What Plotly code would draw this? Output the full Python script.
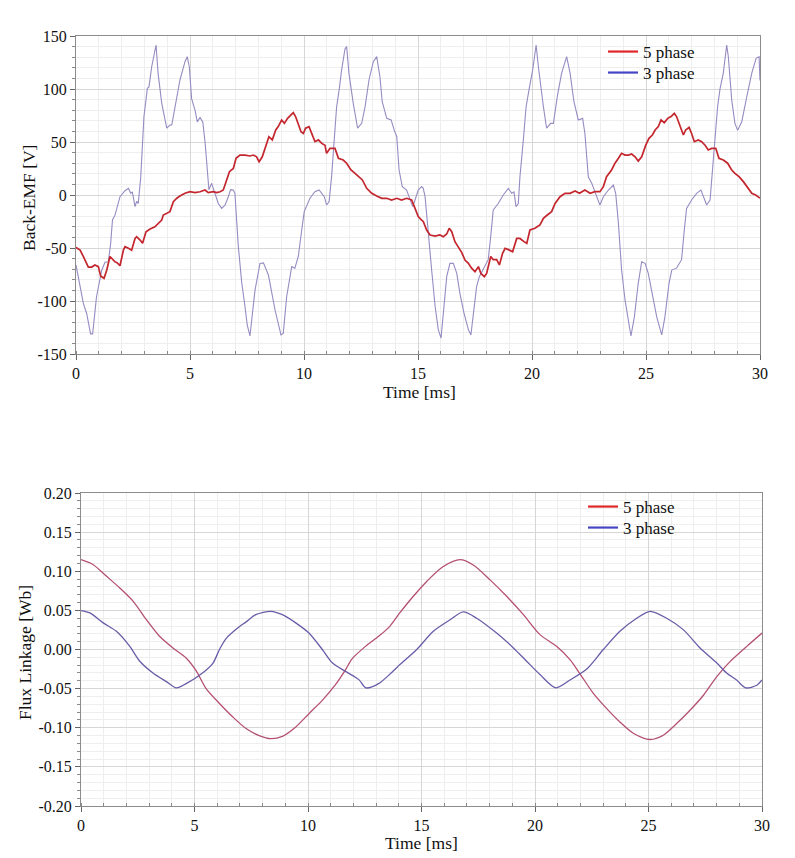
import plotly.graph_objects as go

# ---------------- data ----------------
# Back-EMF, 5 phase (red)
emf5_t = [0.00,0.18,0.32,0.47,0.54,0.69,0.83,0.98,1.08,1.23,1.35,1.49,1.60,1.71,1.81,1.93,2.08,2.15,2.30,2.44,
          2.59,2.66,2.81,2.92,3.07,3.25,3.46,3.61,3.76,3.83,3.98,4.12,4.27,4.42,4.56,4.78,5.00,5.22,5.44,5.66,
          5.80,6.02,6.17,6.32,6.46,6.61,6.73,6.90,7.02,7.19,7.41,7.63,7.78,7.92,8.03,8.17,8.32,8.46,8.61,8.76,
          8.87,9.02,9.14,9.28,9.43,9.53,9.63,9.75,9.87,9.97,10.07,10.22,10.34,10.48,10.63,10.78,10.92,10.99,11.14,11.36,
          11.51,11.72,11.87,12.06,12.24,12.38,12.56,12.75,12.97,13.19,13.41,13.63,13.84,14.07,14.28,14.50,14.72,14.87,15.01,15.16,
          15.23,15.38,15.53,15.75,15.96,16.11,16.26,16.37,16.48,16.62,16.77,16.92,17.06,17.21,17.35,17.50,17.65,17.76,17.91,18.01,
          18.19,18.30,18.45,18.57,18.71,18.82,19.01,19.15,19.33,19.47,19.65,19.77,19.91,20.13,20.35,20.50,20.67,20.86,21.01,21.23,
          21.45,21.67,21.89,22.08,22.32,22.55,22.76,22.98,23.13,23.27,23.49,23.64,23.79,23.93,24.08,24.23,24.37,24.52,24.66,24.81,
          24.99,25.13,25.28,25.40,25.54,25.66,25.80,25.95,26.10,26.24,26.34,26.45,26.56,26.64,26.74,26.89,27.00,27.12,27.29,27.44,
          27.59,27.73,27.88,28.06,28.20,28.39,28.58,28.76,28.90,29.08,29.27,29.46,29.64,29.81,30.00]
emf5_v = [-49.4,-52,-58,-64.5,-68,-68,-66,-67.6,-76.4,-78.6,-70.8,-58,-61,-63,-64,-66.7,-52,-48.7,-50.3,-52,
          -41,-39.3,-42.5,-45.6,-34.6,-32,-30,-26.7,-23.6,-18.9,-17.3,-15.7,-6.3,-3,-1,1.6,3.1,2.2,3.1,4.7,
          2.2,3.1,2.2,3.1,4.7,15.7,22,25,34.6,37.7,37.7,36.8,37.7,36,31.4,36,47,55,52,61.3,
          64.5,70.8,67.6,72.3,75.5,77.7,74,66,59.7,58,63,64.5,58,50.3,52,48.7,47,39.3,44,44,
          34.6,33,30,23.6,20.4,17.3,14.2,6.3,1.6,-1,-3.1,-3.1,-4.7,-3.1,-4.7,-3.1,-4.7,-12.6,-20.4,-23.6,
          -25,-33,-37.7,-38.7,-37.7,-39.3,-36.8,-31.4,-34.6,-44,-48.7,-54.4,-61.3,-64.5,-69,-72.3,-67.6,-74,-77,-74,
          -58,-61,-61,-66,-55,-50.3,-52,-53.5,-41,-41,-44,-45.6,-33,-31.4,-28.3,-22,-18.9,-15.7,-8,-1.6,
          1.6,1.6,3.8,1.6,4.7,1.6,3.1,3.1,7.9,17.3,23.6,30,34.6,39.3,37.7,37.7,38.7,36,32,36,
          47,53.5,56.6,61.3,64.5,70.8,68.2,72.3,74,77,74,67.6,61.3,56.6,61.3,63.8,58,50.3,52,50.3,
          47,42.5,44,44,34.6,33,30,23.6,20.4,17.3,12.6,6.3,1.6,0,-3]

# Back-EMF, 3 phase (blue)
emf3_t = [0.00,0.32,0.47,0.64,0.73,0.90,1.13,1.27,1.42,1.52,1.60,1.71,1.93,2.15,2.30,2.40,2.47,2.59,2.66,2.73,
          2.84,2.92,2.98,3.13,3.20,3.32,3.51,3.60,3.76,3.98,4.12,4.20,4.39,4.56,4.78,4.88,4.97,5.07,5.22,5.32,
          5.44,5.56,5.66,5.76,5.83,5.95,6.05,6.24,6.39,6.54,6.68,6.78,6.90,6.97,7.12,7.27,7.41,7.51,7.63,7.85,
          8.07,8.22,8.44,8.73,8.99,9.09,9.24,9.46,9.60,9.75,9.90,10.01,10.26,10.48,10.66,10.78,10.89,10.99,11.10,11.21,
          11.33,11.43,11.55,11.65,11.80,11.87,11.97,12.16,12.35,12.53,12.68,12.85,13.04,13.19,13.33,13.43,13.63,13.82,13.96,14.07,
          14.17,14.31,14.50,14.65,14.77,14.87,15.01,15.16,15.23,15.31,15.45,15.60,15.75,15.89,16.01,16.11,16.26,16.40,16.55,16.70,
          16.84,17.02,17.21,17.32,17.43,17.57,17.69,17.87,18.08,18.19,18.30,18.52,18.74,18.96,19.11,19.21,19.30,19.40,19.47,19.62,
          19.74,19.88,20.03,20.18,20.28,20.50,20.64,20.82,20.94,21.11,21.30,21.52,21.67,21.84,22.03,22.22,22.32,22.47,22.62,22.76,
          22.98,23.13,23.35,23.57,23.67,23.79,23.93,24.08,24.23,24.34,24.49,24.66,24.81,24.96,25.10,25.28,25.47,25.69,25.83,26.01,
          26.13,26.34,26.56,26.68,26.78,27.00,27.22,27.41,27.51,27.66,27.81,27.95,28.06,28.14,28.25,28.39,28.54,28.61,28.76,28.90,
          29.02,29.20,29.42,29.64,29.83,29.96,30.00]
emf3_v = [-66,-102,-112,-131,-131,-96,-71,-63.5,-63,-45.6,-23.6,-19,-1.6,4,6.3,1.6,3,-11,-6,-8,
          17,45.6,74,100.6,102,121,141.5,115,86.5,63,66,66,89.6,108.5,125.8,130.5,121,91,80,69,
          73,69,50,23.6,5,11,5,-8,-12.6,-9.4,-1.6,5,4.7,1.6,-48.7,-83,-105,-122.6,-133,-90,
          -64.5,-64,-75.5,-108.5,-132,-130.5,-96,-67.6,-69,-58,-33,-15.7,-3,3.1,4.7,1.6,-1.6,-9.4,-6.3,17.3,
          52,83,100.6,118,138,140,115,86.5,63,67.6,83.3,108.5,125.8,130.5,111.6,88,72.3,70.8,61,55,
          23.6,7.9,4.7,-4.7,-11,-4.7,4.7,7.9,6.3,-1.6,-39,-71,-105,-127,-135,-111.6,-77,-64.5,-64.5,-74,
          -93,-111.6,-127,-132,-111.6,-86.5,-77,-69,-61,-39,-14,-8,0,6.3,1.6,3,-11,-8,17,52,
          83,100.6,118,141.5,121,83.3,63,67.6,67.6,93,115,130.5,115,88,70.8,72.3,58,17,11,3,
          -9.4,-1.6,4.7,9.4,1.6,-26.7,-70.8,-99,-118,-133,-115,-83.3,-63,-64.5,-74,-93,-115,-132,-115,-83.3,
          -70.8,-69,-61,-33,-12.6,-4.7,1.6,4.7,-1.6,-9.4,-4.7,30,61,83.3,100.6,115,141.5,130.5,89.6,67.6,
          61,69,92.8,115,129,130.5,108]

# Flux linkage, 5 phase (red)
flux5_t = [0.00,0.54,1.13,1.71,2.30,2.88,3.46,4.05,4.63,5.07,5.51,6.10,6.68,7.27,7.85,8.36,8.87,9.46,10.04,10.63,
           11.21,11.65,11.94,12.53,13.11,13.55,14.05,14.64,15.23,15.96,16.70,17.28,18.02,18.75,19.49,20.22,20.95,21.54,21.98,22.57,
           23.16,23.74,24.33,25.07,25.65,26.24,26.83,27.42,28.00,28.59,29.33,30.00]
flux5_v = [0.1148,0.1084,0.0935,0.0786,0.0616,0.0382,0.0169,0.002,-0.0108,-0.027,-0.050,-0.069,-0.086,-0.101,-0.110,-0.114,-0.111,-0.099,-0.082,-0.065,
           -0.045,-0.026,-0.012,0.004,0.017,0.028,0.047,0.068,0.087,0.106,0.1148,0.108,0.089,0.068,0.0445,0.019,0.004,-0.013,-0.031,-0.056,
           -0.0755,-0.0926,-0.107,-0.115,-0.1096,-0.0947,-0.0777,-0.0585,-0.035,-0.0155,0.004,0.021]

# Flux linkage, 3 phase (blue)
flux3_t = [0.00,0.39,0.98,1.56,2.15,2.59,3.17,3.76,4.20,4.63,5.22,5.80,6.10,6.39,6.97,7.26,7.70,8.36,8.87,9.46,
           10.04,10.63,11.07,11.65,12.24,12.55,13.11,13.70,14.05,14.79,15.52,16.26,16.84,17.43,18.31,19.05,19.63,20.22,20.92,21.54,
           22.28,23.01,23.74,24.48,25.07,25.80,26.53,27.27,28.00,28.44,28.88,29.28,29.77,30.00]
flux3_v = [0.0497,0.0467,0.034,0.0233,0.004,-0.015,-0.030,-0.041,-0.049,-0.0436,-0.033,-0.018,0.0,0.014,0.029,0.035,0.0445,0.0488,0.0445,0.034,
           0.021,0.0,-0.017,-0.028,-0.0385,-0.049,-0.0436,-0.029,-0.0193,0.0,0.0233,0.038,0.048,0.040,0.021,0.002,-0.015,-0.032,-0.049,-0.039,
           -0.025,0.0,0.0233,0.040,0.0488,0.040,0.0254,0.002,-0.017,-0.030,-0.039,-0.049,-0.0457,-0.039]

series_names = ["5 phase", "3 phase"]
x_ticks = [0, 5, 10, 15, 20, 25, 30]
emf_ticks = [-150, -100, -50, 0, 50, 100, 150]
emf_ticktext = ["-150", "-100", "-50", "0", "50", "100", "150"]
flux_ticks = [-0.20, -0.15, -0.10, -0.05, 0.00, 0.05, 0.10, 0.15, 0.20]
flux_ticktext = ["-0.20", "-0.15", "-0.10", "-0.05", "0.00", "0.05", "0.10", "0.15", "0.20"]
x_range = [0, 30]
emf_range = [-150, 150]
flux_range = [-0.2, 0.2]

# ---------------- figure ----------------
W, H = 795, 858
FONT = "Liberation Serif, Times New Roman, serif"
TXT = "#111111"

fig = go.Figure()

# top panel
fig.add_trace(go.Scatter(x=emf3_t, y=emf3_v, mode="lines", line=dict(color="#978bc2", width=1.1),
                         showlegend=False, xaxis="x", yaxis="y"))
fig.add_trace(go.Scatter(x=emf5_t, y=emf5_v, mode="lines", line=dict(color="#c4262e", width=1.7),
                         showlegend=False, xaxis="x", yaxis="y"))
# bottom panel
fig.add_trace(go.Scatter(x=flux5_t, y=flux5_v, mode="lines", line=dict(color="#b45070", width=1.3, shape="spline", smoothing=0.8),
                         showlegend=False, xaxis="x2", yaxis="y2"))
fig.add_trace(go.Scatter(x=flux3_t, y=flux3_v, mode="lines", line=dict(color="#6a5ca8", width=1.3, shape="spline", smoothing=0.8),
                         showlegend=False, xaxis="x2", yaxis="y2"))

# legend entries (one legend per entry for exact row placement)
leg_colors = ["#e0262a", "#4646c4"]
leg_ids = [["legend", "legend2"], ["legend3", "legend4"]]
panel_axes = [("x", "y"), ("x2", "y2")]
for p, (xa, ya) in enumerate(panel_axes):
    for nm, c, lid in zip(series_names, leg_colors, leg_ids[p]):
        fig.add_trace(go.Scatter(x=[None], y=[None], mode="lines", name=nm, line=dict(color=c, width=2.2),
                                 xaxis=xa, yaxis=ya, legend=lid))

def px_x(p):
    return p / W

def px_y(p):
    return 1 - p / H

axis_common = dict(
    showline=True, linecolor="#8c8c8c", linewidth=1, mirror=True,
    showgrid=True, gridcolor="#d6d6d6", gridwidth=1, zeroline=False,
    ticks="outside", ticklen=5, tickcolor="#666", tickwidth=1,
    tickfont=dict(family=FONT, size=16, color=TXT),
    automargin=False,
)

def legend_at(xp, yp):
    return dict(x=px_x(xp), y=px_y(yp), xanchor="left", yanchor="top", bgcolor="rgba(0,0,0,0)",
                font=dict(family=FONT, size=17, color=TXT), tracegroupgap=0, itemwidth=30)

fig.update_layout(
    width=W, height=H,
    margin=dict(l=0, r=0, t=0, b=0),
    font=dict(family=FONT, color=TXT),
    paper_bgcolor="white", plot_bgcolor="white",
    xaxis=dict(domain=[px_x(76), px_x(760)], range=x_range, tickvals=x_ticks, anchor="y",
               minor=dict(dtick=1, showgrid=True, gridcolor="#eeeeee", ticks="inside", ticklen=3, tickcolor="#888"),
               **axis_common),
    yaxis=dict(domain=[px_y(354), px_y(36)], range=emf_range, tickvals=emf_ticks, ticktext=emf_ticktext, anchor="x",
               minor=dict(dtick=10, showgrid=True, gridcolor="#eeeeee", ticks="outside", ticklen=3, tickcolor="#888"),
               **axis_common),
    xaxis2=dict(domain=[px_x(81), px_x(762)], range=x_range, tickvals=x_ticks, anchor="y2",
                minor=dict(dtick=1, showgrid=True, gridcolor="#eeeeee", ticks="inside", ticklen=3, tickcolor="#888"),
                **axis_common),
    yaxis2=dict(domain=[px_y(806), px_y(493)], range=flux_range, tickvals=flux_ticks, ticktext=flux_ticktext, anchor="x2",
                minor=dict(dtick=0.01, showgrid=True, gridcolor="#eeeeee", ticks="outside", ticklen=3, tickcolor="#888"),
                **axis_common),
    legend=legend_at(603, 34),
    legend2=legend_at(603, 55),
    legend3=legend_at(583, 489),
    legend4=legend_at(583, 510),
    showlegend=True,
)

title_font = dict(family=FONT, size=17.5, color=TXT)
fig.add_annotation(text="Time [ms]", x=px_x(419), y=px_y(392), xref="paper", yref="paper",
                   showarrow=False, xanchor="center", yanchor="middle", font=title_font)
fig.add_annotation(text="Back-EMF [V]", x=px_x(29), y=px_y(198), xref="paper", yref="paper",
                   showarrow=False, xanchor="center", yanchor="middle", textangle=-90, font=title_font)
fig.add_annotation(text="Time [ms]", x=px_x(421), y=px_y(843), xref="paper", yref="paper",
                   showarrow=False, xanchor="center", yanchor="middle", font=title_font)
fig.add_annotation(text="Flux Linkage [Wb]", x=px_x(25), y=px_y(653), xref="paper", yref="paper",
                   showarrow=False, xanchor="center", yanchor="middle", textangle=-90, font=title_font)

fig.write_html("out.html")
